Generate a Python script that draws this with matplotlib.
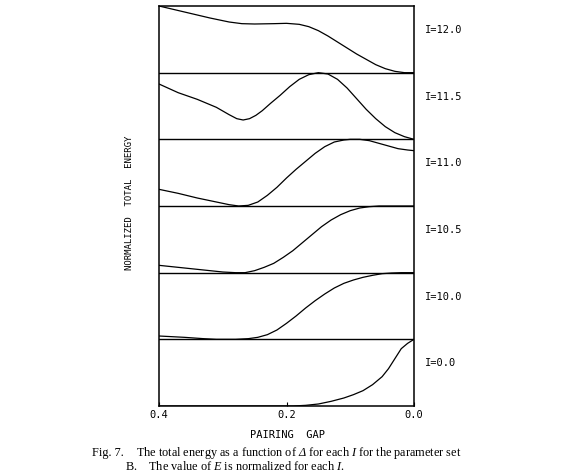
"""Stacked normalized total energy vs pairing gap (Fig. 7 recreation)."""

import matplotlib
matplotlib.use("Agg")
import matplotlib.pyplot as plt

# panel labels, top to bottom
spin_labels = ["I=12.0", "I=11.5", "I=11.0", "I=10.5", "I=10.0", "I=0.0"]

# normalized energy curves (gap, value), top to bottom
gap_12_0 = [0.40, 0.36, 0.32, 0.29, 0.27, 0.25, 0.22, 0.20, 0.18, 0.165, 0.15,
            0.135, 0.12, 0.105, 0.09, 0.075, 0.06, 0.045, 0.03, 0.015, 0.0]
val_12_0 = [1.00, 0.91, 0.82, 0.76, 0.735, 0.73, 0.735, 0.74, 0.725, 0.69, 0.63,
            0.55, 0.46, 0.37, 0.28, 0.20, 0.12, 0.06, 0.02, 0.0, 0.0]

gap_11_5 = [0.40, 0.37, 0.34, 0.31, 0.29, 0.278, 0.268, 0.258, 0.248, 0.238,
            0.225, 0.21, 0.195, 0.18, 0.165, 0.15, 0.135, 0.12, 0.105, 0.09,
            0.075, 0.06, 0.045, 0.03, 0.015, 0.0]
val_11_5 = [0.83, 0.70, 0.60, 0.48, 0.37, 0.31, 0.29, 0.31, 0.36, 0.43,
            0.54, 0.66, 0.79, 0.90, 0.97, 1.00, 0.98, 0.90, 0.77, 0.61,
            0.45, 0.31, 0.19, 0.10, 0.04, 0.0]

gap_11_0 = [0.40, 0.37, 0.34, 0.31, 0.29, 0.275, 0.26, 0.245, 0.23, 0.215, 0.20,
            0.185, 0.17, 0.155, 0.14, 0.125, 0.11, 0.10, 0.085, 0.07, 0.055,
            0.04, 0.025, 0.01, 0.0]
val_11_0 = [0.25, 0.19, 0.12, 0.06, 0.02, 0.0, 0.01, 0.06, 0.16, 0.28, 0.42,
            0.55, 0.67, 0.79, 0.89, 0.96, 0.99, 1.00, 1.00, 0.98, 0.94,
            0.90, 0.86, 0.84, 0.83]

gap_10_5 = [0.40, 0.36, 0.32, 0.30, 0.28, 0.265, 0.25, 0.235, 0.22, 0.205, 0.19,
            0.175, 0.16, 0.145, 0.13, 0.115, 0.10, 0.085, 0.07, 0.055, 0.0]
val_10_5 = [0.11, 0.07, 0.03, 0.01, 0.0, 0.0, 0.03, 0.08, 0.14, 0.23, 0.33,
            0.45, 0.57, 0.69, 0.79, 0.87, 0.93, 0.97, 0.99, 1.00, 1.00]

gap_10_0 = [0.40, 0.36, 0.33, 0.31, 0.28, 0.26, 0.245, 0.23, 0.215, 0.20, 0.185,
            0.17, 0.155, 0.14, 0.125, 0.11, 0.095, 0.08, 0.065, 0.05, 0.035,
            0.02, 0.0]
val_10_0 = [0.05, 0.03, 0.01, 0.0, 0.0, 0.01, 0.03, 0.07, 0.14, 0.24, 0.35,
            0.47, 0.58, 0.68, 0.77, 0.84, 0.89, 0.93, 0.96, 0.985, 0.995,
            1.00, 1.00]

gap_0_0 = [0.40, 0.30, 0.19, 0.17, 0.15, 0.13, 0.11, 0.095, 0.08, 0.065, 0.05,
           0.04, 0.03, 0.02, 0.01, 0.0]
val_0_0 = [0.0, 0.0, 0.0, 0.01, 0.03, 0.07, 0.12, 0.17, 0.23, 0.32, 0.44,
           0.56, 0.71, 0.86, 0.94, 1.00]

gaps = [gap_12_0, gap_11_5, gap_11_0, gap_10_5, gap_10_0, gap_0_0]
vals = [val_12_0, val_11_5, val_11_0, val_10_5, val_10_0, val_0_0]
x_ticks = [0.4, 0.2, 0.0]
x_tick_labels = ["0.4", "0.2", "0.0"]

# caption symbols are italic, Greek included
plt.rcParams["mathtext.fontset"] = "custom"
plt.rcParams["mathtext.rm"] = "Liberation Serif:italic"
plt.rcParams["mathtext.it"] = "Liberation Serif:italic"

W, H = 581, 474
fig = plt.figure(figsize=(W / 100, H / 100), dpi=100)
ax = fig.add_axes([159 / W, 1 - 406 / H, (414 - 159) / W, (406 - 6) / H])

n = len(spin_labels)
mono = "DejaVu Sans Mono"
for i, (g, v, lab) in enumerate(zip(gaps, vals, spin_labels)):
    base = n - 1 - i
    ax.plot(g, [base + y for y in v], color="black", lw=0.9)
    if base > 0:
        ax.axhline(base, color="black", lw=1.0)
    ax.text(1.043, (base + 0.64) / n, lab, transform=ax.transAxes,
            ha="left", va="center", fontsize=7.5, family=mono)

ax.set_xlim(0.4, 0.0)
ax.set_ylim(0, n)
ax.set_yticks([])
ax.set_xticks(x_ticks)
ax.set_xticklabels(x_tick_labels, family=mono, fontsize=7.5)
ax.tick_params(axis="x", direction="in", length=3, width=0.8, pad=3)
for sp in ax.spines.values():
    sp.set_linewidth(1.1)

fig.text(130 / W, 1 - 203 / H, "NORMALIZED  TOTAL  ENERGY", rotation=90,
         ha="center", va="center", fontsize=6.5, family=mono)
fig.text(287.5 / W, 1 - 435 / H, "PAIRING  GAP", ha="center", va="center",
         fontsize=7.5, family=mono)

serif = "Liberation Serif"
cap_size = 8.8
fig.text(92 / W, 1 - 456 / H, "Fig. 7.", ha="left", va="baseline",
         fontsize=cap_size, family=serif)
fig.text(136 / W, 1 - 456 / H,
         r"The total energy as a function of $\Delta$ for each $I$ for the parameter set",
         ha="left", va="baseline", fontsize=cap_size, family=serif)
fig.text(125 / W, 1 - 470.5 / H,
         r"B.    The value of $E$ is normalized for each $I$.",
         ha="left", va="baseline", fontsize=cap_size, family=serif)

fig.savefig("out.png", dpi=100)
print("Saved to out.png")
